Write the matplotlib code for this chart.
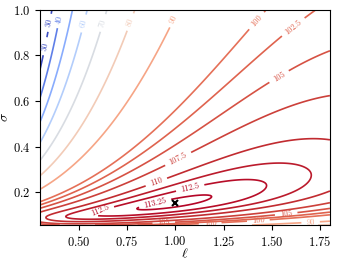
import numpy as np
import matplotlib
matplotlib.use('Agg')
import matplotlib.pyplot as plt

plt.rcParams['font.family'] = 'serif'
plt.rcParams['font.serif'] = ['cmr10']
plt.rcParams['mathtext.fontset'] = 'cm'
plt.rcParams['axes.formatter.use_mathtext'] = True
plt.rcParams['xtick.labelsize'] = 9
plt.rcParams['ytick.labelsize'] = 9

# Axis ranges
ell_min, ell_max = 0.3, 1.8
sigma_min, sigma_max = 0.055, 1.0

# Contour levels shown in the figure
levels = [30, 40, 50, 60, 70, 80, 90, 100, 102.5, 105, 107.5, 110, 111.5, 112.5, 113.25]

# Marked optimum
ell_hat, sigma_hat = 1.0, 0.15

# Ridge of the surface (best sigma for each ell)
ridge_ell = [0.33, 0.43, 0.58, 0.79, 0.95, 1.15, 1.48, 1.70, 1.80]
ridge_sigma = [0.088, 0.092, 0.10, 0.14, 0.15, 0.152, 0.23, 0.28, 0.30]
ridge_value = [110, 111.5, 112.5, 113.25, 113.45, 113.25, 112.5, 111.5, 111.0]

# How fast the surface falls away from the ridge (read from the level spacing)
fall_base, fall_small_ell = 5.5, 16.5
upper_power, lower_power = 1.1, 0.9


# Build the surface from the values above
# ***************************************
ridge_u = np.polyfit(np.log(ridge_ell), np.log(ridge_sigma), 2)
ridge_f = np.polyfit(np.log(ridge_ell), ridge_value, 4)

ell = np.linspace(ell_min, ell_max, 300)
sigma = np.linspace(sigma_min, sigma_max, 300)
L, S = np.meshgrid(ell, sigma)

s = np.log(S) - np.polyval(ridge_u, np.log(L))      # log distance from the ridge
p = np.where(s > 0, upper_power, lower_power)
shape = s + (np.exp(-p * s) - 1) / p
Z = np.polyval(ridge_f, np.log(L)) - (fall_base + fall_small_ell / L) * shape


# Plot
# ****
fig = plt.figure(figsize=(3.37, 2.62), dpi=100)
ax = fig.add_axes([0.119, 0.141, 0.86, 0.821])
cs = ax.contour(L, S, Z, levels=levels, cmap='coolwarm', linewidths=1.2)

# where the inline labels sit
label_spots = [(0.326, 0.947), (0.341, 0.838), (0.419, 0.956), (0.496, 0.947),
               (0.609, 0.947), (0.738, 0.956), (0.98, 0.965), (1.434, 0.943),
               (1.614, 0.921), (1.547, 0.693), (1.022, 0.333), (0.903, 0.241),
               (1.073, 0.232), (0.609, 0.123), (0.893, 0.158), (1.573, 0.11),
               (0.94, 0.065), (1.18, 0.065), (1.43, 0.068), (1.70, 0.07)]
ax.clabel(cs, fontsize=6, fmt='%g', manual=label_spots)

ax.plot(ell_hat, sigma_hat, 'kx', ms=5, mew=1.5)
ax.set_xlabel(r'$\ell$', fontsize=10)
ax.set_ylabel(r'$\sigma$', fontsize=10)
ax.xaxis.set_label_coords(0.5, -0.1)
ax.yaxis.set_label_coords(-0.1, 0.5)
ax.set_xticks([0.5, 0.75, 1.0, 1.25, 1.5, 1.75])
ax.set_yticks([0.2, 0.4, 0.6, 0.8, 1.0])
fig.savefig('out.png', dpi=100)
